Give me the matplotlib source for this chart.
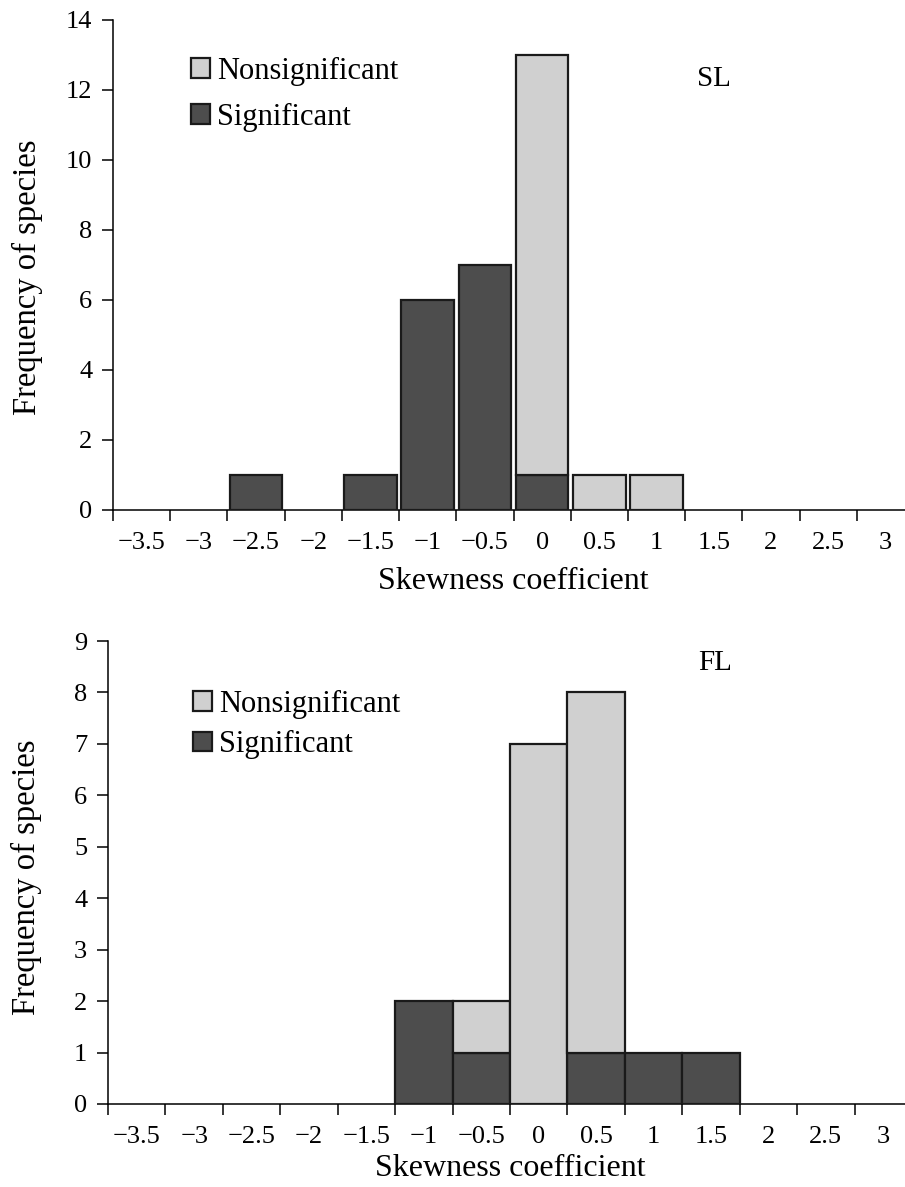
import numpy as np
import matplotlib
matplotlib.use("Agg")
import matplotlib.pyplot as plt
from matplotlib.ticker import FixedLocator, NullFormatter

# categories (skewness bins)
categories = ["\u22123.5", "\u22123", "\u22122.5", "\u22122", "\u22121.5", "\u22121", "\u22120.5",
              "0", "0.5", "1", "1.5", "2", "2.5", "3"]

# SL panel
sl_sig = [0, 0, 1, 0, 1, 6, 7, 1, 0, 0, 0, 0, 0, 0]
sl_nonsig = [0, 0, 0, 0, 0, 0, 0, 12, 1, 1, 0, 0, 0, 0]

# FL panel
fl_sig = [0, 0, 0, 0, 0, 2, 1, 0, 1, 1, 1, 0, 0, 0]
fl_nonsig = [0, 0, 0, 0, 0, 0, 1, 7, 7, 0, 0, 0, 0, 0]

DARK = "#4d4d4d"
LIGHT = "#d0d0d0"
EDGE = "#1a1a1a"

plt.rcParams['font.family'] = ['Liberation Serif', 'DejaVu Serif']
plt.rcParams['axes.linewidth'] = 1.1

W, H = 905, 1187
fig = plt.figure(figsize=(W / 100, H / 100), dpi=100)


def panel(rect, sig, nonsig, ymax, yticks, tag, tag_xy, width, leg_anchor, leg_spacing,
          ylab_xy, xlab_pad):
    ax = fig.add_axes(rect)
    x = np.arange(len(categories))
    sig = np.array(sig)
    nonsig = np.array(nonsig)
    m = sig > 0
    ax.bar(x[m], sig[m], width=width, color=DARK, edgecolor=EDGE, linewidth=1.6,
           label="Significant", zorder=3)
    m2 = nonsig > 0
    ax.bar(x[m2], nonsig[m2], bottom=sig[m2], width=width, color=LIGHT, edgecolor=EDGE,
           linewidth=1.6, label="Nonsignificant", zorder=3)

    ax.set_xlim(-0.5, len(categories) - 0.5)
    ax.set_ylim(0, ymax)
    ax.spines['top'].set_visible(False)
    ax.spines['right'].set_visible(False)

    ax.set_xticks(x)
    ax.set_xticklabels(categories)
    ax.xaxis.set_minor_locator(FixedLocator(np.arange(-0.5, len(categories), 1.0)))
    ax.xaxis.set_minor_formatter(NullFormatter())
    ax.tick_params(axis='x', which='major', length=0, pad=16, labelsize=19)
    ax.tick_params(axis='x', which='minor', length=8, width=1.1, direction='out')
    ax.set_yticks(yticks)
    ax.tick_params(axis='y', length=8, width=1.1, pad=7, labelsize=19)

    ax.set_xlabel("Skewness coefficient", fontsize=23, labelpad=xlab_pad)
    ax.set_ylabel("Frequency of species", fontsize=23.5)
    ax.yaxis.set_label_coords(*ylab_xy)

    ax.text(tag_xy[0], tag_xy[1], tag, fontsize=21, ha='center', va='center')

    h, l = ax.get_legend_handles_labels()
    ax.legend(h[::-1], l[::-1], loc='upper left', bbox_to_anchor=leg_anchor, frameon=False,
              fontsize=22, handlelength=0.6, handleheight=0.6, handletextpad=0.25,
              labelspacing=leg_spacing, borderpad=0, borderaxespad=0)
    return ax


panel([113 / W, 1 - 510 / H, 801 / W, 490 / H], sl_sig, sl_nonsig, 14, range(0, 15, 2),
      "SL", (10.0, 12.3), 0.92, (0.098, 0.925), 0.55, (-0.088, 0.475), 9)
panel([108 / W, 1 - 1104 / H, 804 / W, 463 / H], fl_sig, fl_nonsig, 9, range(0, 10, 1),
      "FL", (10.07, 8.58), 1.0, (0.106, 0.895), 0.38, (-0.082, 0.49), 4)

fig.savefig("out.png", dpi=100)
